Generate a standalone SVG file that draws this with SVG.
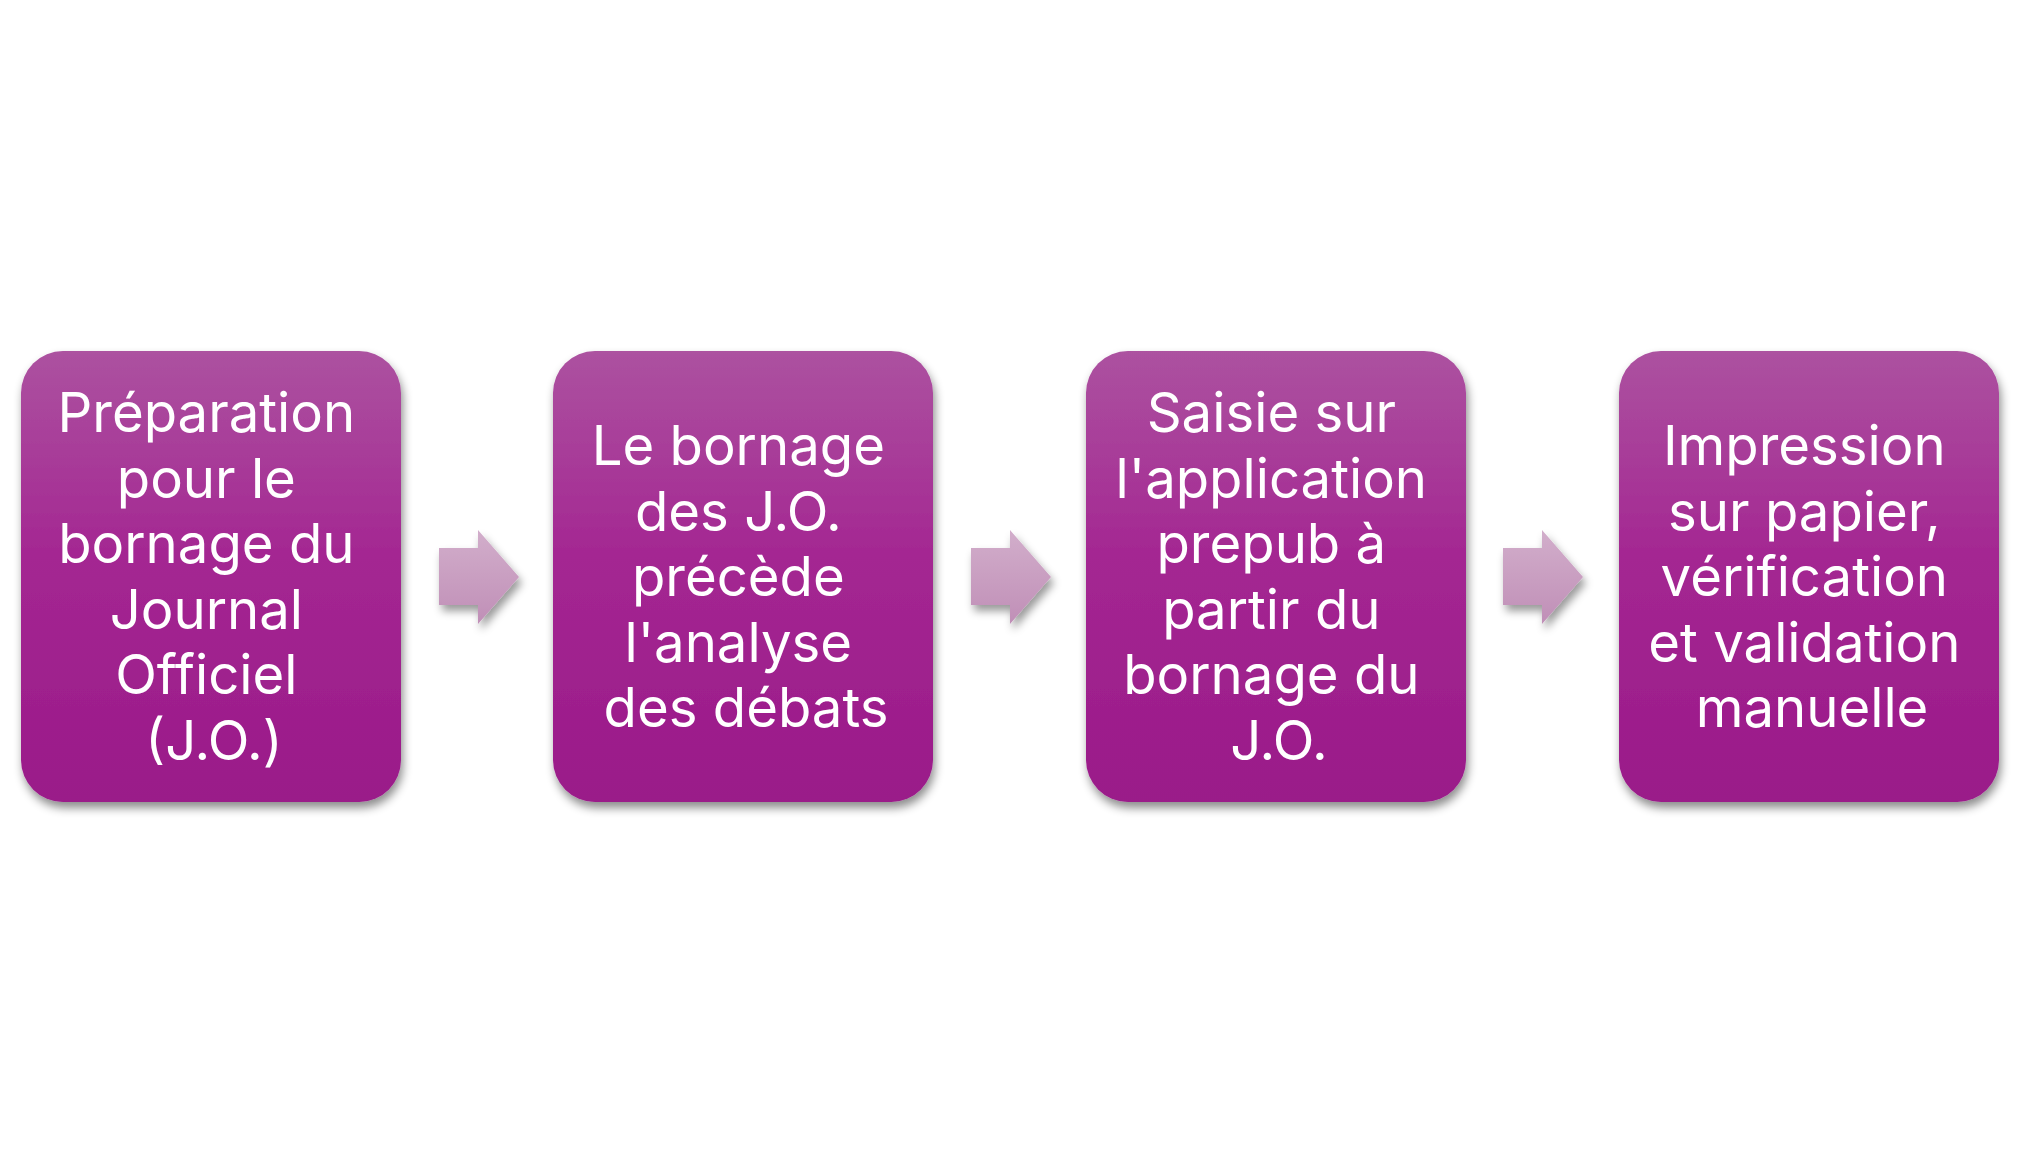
<svg xmlns="http://www.w3.org/2000/svg" width="2035" height="1155" viewBox="0 0 2035 1155">
  <defs>
    <linearGradient id="boxGrad" x1="0" y1="0" x2="0" y2="1">
      <stop offset="0" stop-color="#AC52A0"/>
      <stop offset="0.45" stop-color="#A42792"/>
      <stop offset="1" stop-color="#9A1A89"/>
    </linearGradient>
    <linearGradient id="arrowGrad" x1="0" y1="0" x2="0" y2="1">
      <stop offset="0" stop-color="#D2AECB"/>
      <stop offset="1" stop-color="#C08FB7"/>
    </linearGradient>
    <filter id="shadow" x="-20%" y="-20%" width="140%" height="140%">
      <feDropShadow dx="2" dy="6" stdDeviation="5" flood-color="#000" flood-opacity="0.45"/>
    </filter>
    <filter id="ashadow" x="-30%" y="-30%" width="160%" height="160%">
      <feDropShadow dx="3" dy="6" stdDeviation="4" flood-color="#000" flood-opacity="0.4"/>
    </filter>
  </defs>
  <style>
    .box { fill: url(#boxGrad); filter: url(#shadow); }
    .arrow { fill: url(#arrowGrad); filter: url(#ashadow); }
    .label { font-family: Inter, "Open Sans", "Liberation Sans", sans-serif; font-size: 54.5px; fill: #ffffff; text-anchor: middle; }
  </style>
  <rect width="2035" height="1155" fill="#ffffff"/>

  <g id="connectors">
    <polygon class="arrow" points="439,548 478,548 478,530 519,577 478,624 478,605 439,605"/>
    <polygon class="arrow" points="971,548 1010,548 1010,530 1051,577 1010,624 1010,605 971,605"/>
    <polygon class="arrow" points="1503,548 1542,548 1542,530 1583,577 1542,624 1542,605 1503,605"/>
  </g>

  <g id="node1">
    <rect class="box" x="21" y="351" width="380" height="451" rx="42" ry="42"/>
    <text class="label" x="214">
      <tspan x="214" y="432">Préparation</tspan>
      <tspan x="214" y="497.5">pour le</tspan>
      <tspan x="214" y="563">bornage du</tspan>
      <tspan x="214" y="628.5">Journal</tspan>
      <tspan x="214" y="694">Officiel</tspan>
      <tspan x="214" y="759.5">(J.O.)</tspan>
    </text>
  </g>

  <g id="node2">
    <rect class="box" x="553" y="351" width="380" height="451" rx="42" ry="42"/>
    <text class="label" x="746">
      <tspan x="746" y="465">Le bornage</tspan>
      <tspan x="746" y="530.5">des J.O.</tspan>
      <tspan x="746" y="596">précède</tspan>
      <tspan x="746" y="661.5">l'analyse</tspan>
      <tspan x="746" y="727">des débats</tspan>
    </text>
  </g>

  <g id="node3">
    <rect class="box" x="1086" y="351" width="380" height="451" rx="42" ry="42"/>
    <text class="label" x="1279">
      <tspan x="1279" y="432">Saisie sur</tspan>
      <tspan x="1279" y="497.5">l'application</tspan>
      <tspan x="1279" y="563">prepub à</tspan>
      <tspan x="1279" y="628.5">partir du</tspan>
      <tspan x="1279" y="694">bornage du</tspan>
      <tspan x="1279" y="759.5">J.O.</tspan>
    </text>
  </g>

  <g id="node4">
    <rect class="box" x="1619" y="351" width="380" height="451" rx="42" ry="42"/>
    <text class="label" x="1812">
      <tspan x="1812" y="465">Impression</tspan>
      <tspan x="1812" y="530.5">sur papier,</tspan>
      <tspan x="1812" y="596">vérification</tspan>
      <tspan x="1812" y="661.5">et validation</tspan>
      <tspan x="1812" y="727">manuelle</tspan>
    </text>
  </g>
</svg>
